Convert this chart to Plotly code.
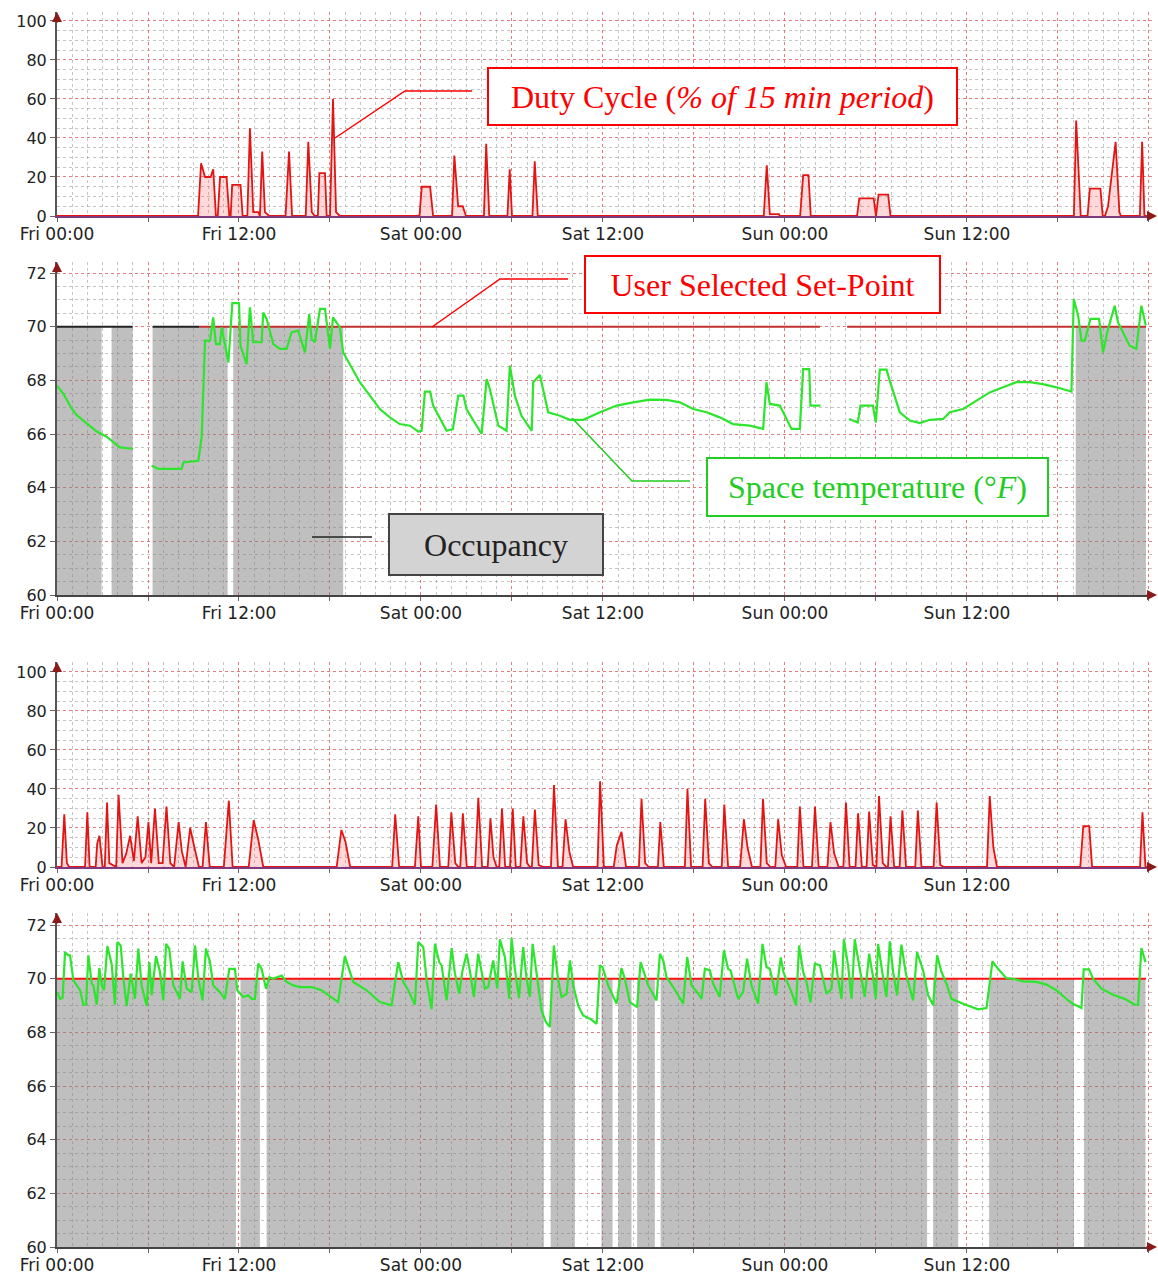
import plotly.graph_objects as go

W, H = 1158, 1275

# ---------------- axis labels ----------------
TICK_HOURS = [0, 6, 12, 18, 24, 30, 36, 42, 48, 54, 60, 66, 72]
TICK_LABELS = ["Fri 00:00", "", "Fri 12:00", "", "Sat 00:00", "", "Sat 12:00", "",
               "Sun 00:00", "", "Sun 12:00", "", ""]
DUTY_TICKS = [0, 20, 40, 60, 80, 100]
TEMP_TICKS = [60, 62, 64, 66, 68, 70, 72]
SETPOINT = 70

# ---------------- panel 1 : duty cycle (hours since Fri 00:00, %) ----------------
DUTY1_T = [0, 9.3, 9.5, 9.76, 10.13, 10.3, 10.48, 10.6, 10.75, 11.18, 11.36, 11.45, 11.55, 12.1, 12.24,
           12.55, 12.72, 12.94, 13.27, 13.38, 13.53, 13.71, 14.0, 15.07, 15.3, 15.5, 16.4, 16.57, 16.8,
           17.0, 17.2, 17.3, 17.67, 17.78, 18.0, 18.2, 18.4, 18.65,
           23.9, 24.05, 24.6, 24.8,
           26.05, 26.2, 26.45, 26.75, 26.97,
           28.15, 28.3, 28.5,
           29.7, 29.85, 30.0,
           31.35, 31.5, 31.7,
           46.6, 46.8, 47.0, 47.6, 47.65,
           49.0, 49.2, 49.55, 49.7,
           52.75, 52.9, 53.85, 54.0, 54.17, 54.8, 54.96,
           67.05, 67.2, 67.5,
           67.95, 68.1, 68.8, 68.95,
           69.1, 69.3, 69.8, 70.05, 70.15,
           71.4, 71.55, 71.7, 71.85]
DUTY1_V = [0, 0, 27, 20, 20, 24, 0, 0, 20, 20, 0, 0, 16, 16, 0,
           0, 45, 2, 2, 0, 33, 2, 0, 0, 33, 0, 0, 38, 2,
           0, 0, 22, 22, 0, 0, 60, 2, 0,
           0, 15, 15, 0,
           0, 31, 5, 5, 0,
           0, 37, 0,
           0, 24, 0,
           0, 28, 0,
           0, 26, 1, 1, 0,
           0, 21, 21, 0,
           0, 9, 9, 0, 11, 11, 0,
           0, 49, 0,
           0, 14, 14, 0,
           0, 5, 38, 2, 0,
           0, 38, 0, 0]

# ---------------- panel 2 : temperature / occupancy (period 1) ----------------
TEMP1_T = [0, 0.42, 0.97, 1.3, 1.96, 2.6, 3.27, 3.71, 4.15, 4.99, None,
           6.24, 6.68, 8.22, 8.33, 9.32, 9.54, 9.76, 10.09, 10.3, 10.48, 10.74, 10.86, 11.3, 11.56, 12.0,
           12.1, 12.5, 12.72, 12.94, 13.49, 13.6, 13.82, 14.26, 14.7, 15.14, 15.47, 15.9, 16.35, 16.63,
           16.79, 17.0, 17.34, 17.67, 18.0, 18.2, 18.65, 18.87, 19.3, 19.97, 20.63, 21.29, 21.95, 22.6,
           23.27, 23.82, 24.04, 24.26, 24.6, 24.8, 25.69, 26.1, 26.46, 26.8, 27.0, 28.0, 28.33, 28.54,
           29.1, 29.64, 29.86, 30.19, 30.63, 31.3, 31.4, 31.84, 32.39, 33.16, 33.82, 34.7, 35.8, 36.9,
           38.0, 39.09, 40.19, 41.07, 41.95, 42.83, 43.7, 44.58, 45.68, 46.56, 46.78, 47.0, 47.66, 47.88,
           48.43, 48.98, 49.2, 49.6, 49.68, 50.34, None,
           52.23, 52.8, 52.98, 53.8, 53.99, 54.25, 54.7, 54.9, 55.57, 56.23, 56.89, 57.55, 58.43, 58.87,
           59.75, 60.63, 61.5, 62.38, 63.26, 64.14, 65.0, 65.9, 66.89, 67.04, 67.33, 67.55, 67.77, 68.14,
           68.71, 68.97, 69.3, 69.74, 69.96, 70.73, 71.17, 71.5, 71.79]
TEMP1_V = [67.8, 67.5, 66.95, 66.7, 66.4, 66.1, 65.9, 65.7, 65.5, 65.45, None,
           64.82, 64.7, 64.7, 64.94, 65.0, 65.9, 69.48, 69.48, 70.35, 69.35, 69.35, 69.97, 68.67, 70.88, 70.88,
           69.29, 68.6, 70.72, 69.42, 69.42, 70.53, 70.29, 69.35, 69.17, 69.17, 69.79, 69.85, 69.04, 70.47,
           69.54, 69.42, 70.66, 70.66, 69.17, 70.35, 69.97, 69.04, 68.6, 67.93, 67.43, 66.93, 66.62, 66.37,
           66.31, 66.09, 66.12, 67.58, 67.58, 67.06, 66.12, 66.18, 67.43, 67.43, 66.93, 66.0, 68.05, 67.68,
           66.31, 66.12, 68.55, 67.43, 66.68, 66.12, 67.93, 68.2, 66.81, 66.68, 66.53, 66.53, 66.81, 67.06,
           67.18, 67.28, 67.27, 67.18, 66.93, 66.81, 66.62, 66.37, 66.31, 66.19, 67.93, 67.12, 67.06, 66.81,
           66.19, 66.19, 68.42, 68.42, 67.06, 67.06, None,
           66.56, 66.43, 67.06, 67.06, 66.43, 68.4, 68.4, 68.0, 66.81, 66.5, 66.41, 66.53, 66.56, 66.81,
           66.93, 67.24, 67.55, 67.74, 67.93, 67.93, 67.86, 67.74, 67.58, 71.03, 70.41, 69.48, 69.48, 70.29,
           70.29, 69.04, 69.91, 70.78, 70.16, 69.29, 69.17, 70.78, 70.04]
OCC1_START = [0, 3.6, 6.3, 11.62, 67.17]
OCC1_END = [2.94, 4.99, 11.25, 18.87, 71.8]
SP1_BLACK_T = [0, 4.99, None, 6.3, 9.4]
SP1_RED_T = [9.4, 50.3, None, 52.1, 71.8]

# ---------------- panel 3 : duty cycle (period 2) ----------------
DUTY2_T = [0, 0.3, 0.48, 0.65, 0.8, 1.85, 2.0, 2.15, 2.55, 2.65, 2.8, 3.0, 3.15, 3.3, 3.45, 3.9, 4.06,
           4.32, 4.57, 4.82, 5.07, 5.32, 5.58, 5.83, 6.03, 6.21, 6.46, 6.71, 6.96, 7.22, 7.47, 7.72, 8.02,
           8.23, 8.48, 8.78, 9.06, 9.36, 9.6, 9.82, 10.07, 11.0, 11.33, 11.58, 12.64, 12.97, 13.27, 13.6,
           18.44, 18.75, 19.02, 19.33, 22.1, 22.3, 22.56, 23.6, 23.82, 24.0, 24.75, 25.0, 25.25,
           25.8, 26.0, 26.26, 26.46, 26.59, 26.76, 27.02, 27.57, 27.78, 28.03, 28.4, 28.58, 28.78, 28.99,
           29.16, 29.34, 29.55, 29.87, 30.05, 30.25, 30.55, 30.75, 31.0, 31.18, 31.31, 31.51, 31.76, 32.06,
           32.57, 32.77, 33.03, 33.33, 33.53, 33.78, 34.03, 35.64, 35.81, 36.06, 36.71, 36.91, 37.22, 37.52,
           38.37, 38.54, 38.78, 39.02, 39.62, 39.78, 40.01, 41.4, 41.57, 41.81, 42.57, 42.74, 42.98, 43.22,
           43.83, 44.0, 44.25, 45.04, 45.29, 45.53, 45.82, 46.38, 46.55, 46.8, 47.04, 47.36, 47.55, 47.79,
           48.08, 48.81, 48.98, 49.22, 49.78, 49.98, 50.22, 50.8, 51.0, 51.24, 51.54, 51.85, 52.02, 52.26,
           52.65, 52.82, 53.07, 53.38, 53.55, 53.79, 54.03, 54.2, 54.45, 54.69, 54.79, 54.96, 55.2,
           55.56, 55.74, 55.98, 56.59, 56.76, 57.0, 57.8, 58.0, 58.24, 58.48, 61.32, 61.5, 61.74, 61.98,
           67.47, 67.67, 68.06, 68.25, 71.41, 71.57, 71.77, 71.85]
DUTY2_V = [0, 0, 27, 2, 0, 0, 28, 0, 0, 12, 16, 0, 0, 33, 2, 0, 37,
           2, 7, 16, 3, 26, 2, 5, 23, 2, 30, 2, 2, 31, 2, 0, 23,
           8, 0, 20, 10, 0, 0, 23, 0, 0, 34, 0, 0, 24, 14, 0,
           0, 19, 13, 0, 0, 27, 0, 0, 26, 0, 0, 32, 0,
           0, 28, 2, 0, 0, 27.5, 0, 0, 35.5, 0, 0, 25, 5, 0,
           0, 30, 0, 0, 30, 0, 0, 26, 2, 0, 0, 29.5, 1, 0,
           0, 42, 0, 0, 24.5, 8, 0, 0, 44, 0, 0, 11, 18, 0,
           0, 35, 2, 0, 0, 23, 0, 0, 40, 0, 0, 35, 2, 0,
           0, 32, 0, 0, 24.5, 10, 0, 0, 35, 2, 0, 0, 24.5, 6,
           0, 0, 31, 0, 0, 31, 0, 0, 23, 7, 0, 0, 33, 0,
           0, 27.5, 0, 0, 28.4, 1, 0, 36.4, 2, 0, 0, 26, 0,
           0, 29, 0, 0, 29, 0, 0, 33, 1, 0, 0, 36.4, 10, 0,
           0, 21, 21, 0, 0, 28, 0, 0]

# ---------------- panel 4 : temperature / occupancy (period 2) ----------------
TEMP2_T = [0.0, 0.2, 0.37, 0.53, 0.75, 0.86, 1.08, 1.3, 1.52, 1.74, 1.91, 2.07, 2.29, 2.4, 2.62, 2.79,
           2.95, 3.1, 3.32, 3.6, 3.82, 3.98, 4.2, 4.37, 4.59, 4.86, 5.14, 5.36, 5.58, 5.91, 6.09, 6.24,
           6.53, 6.79, 7.01, 7.19, 7.4, 7.67, 8.11, 8.28, 8.55, 8.88, 9.1, 9.32, 9.6, 9.82, 10.09, 10.3,
           10.74, 11.07, 11.36, 11.73, 11.89, 12.28, 12.61, 12.83, 13.05, 13.27, 13.49, 13.78, 14.0,
           14.26, 14.81, 15.14, 15.58, 16.02, 16.79, 17.45, 18.54, 18.98, 19.27, 19.53, 20.41, 21.29,
           22.06, 22.5, 22.83, 23.16, 23.6,
           23.82, 24.15, 24.37, 24.7, 24.92, 25.2, 25.36, 25.69, 26.02, 26.24, 26.52, 26.74, 27.01, 27.22,
           27.49, 27.77, 28.0, 28.21, 28.43, 28.76, 29.03, 29.2, 29.53, 29.82, 29.97, 30.19, 30.46, 30.74,
           30.96, 31.18, 31.36, 31.62, 31.95, 32.23, 32.5, 32.76, 33.05, 33.27, 33.6, 33.82, 34.04, 34.36,
           34.69, 35.14, 35.58, 35.8, 35.97, 36.34, 36.9, 37.22, 37.44, 37.77, 38.25, 38.48, 38.76, 38.98,
           39.53, 39.75, 39.97, 40.19, 40.63, 41.29, 41.55, 41.84, 42.28, 42.5, 42.72, 43.05, 43.26, 43.7,
           43.97, 44.25, 44.41, 44.91, 45.24, 45.5, 45.79, 46.23, 46.52, 46.78, 47.0, 47.4, 47.72, 47.9,
           48.1, 48.43, 48.73,
           48.93, 49.2, 49.42, 49.68, 49.97, 50.3, 50.52, 50.74, 51.07, 51.24, 51.5, 51.73, 51.88, 52.16,
           52.39, 52.6, 52.93, 53.26, 53.55, 53.81, 53.99, 54.14, 54.43, 54.69, 54.91, 55.13, 55.39, 55.68,
           55.97, 56.34, 56.45, 56.71, 57.11, 57.44, 57.77, 58.03, 58.32, 58.65, 58.98, 59.74, 60.73,
           61.29, 61.68, 62.05, 62.6, 63.04, 63.7, 64.58, 65.24, 65.9, 66.67, 66.99, 67.55, 67.7, 68.05,
           68.31, 68.87, 69.63, 70.4, 71.06, 71.28, 71.5, 71.77]
TEMP2_V = [69.5, 69.25, 69.28, 70.99, 70.87, 70.87, 69.94, 69.75, 69.57, 69.03, 69.03, 70.87, 69.81,
           69.75, 69.03, 70.4, 69.75, 69.57, 71.22, 70.56, 69.03, 71.37, 71.24, 70.06, 68.98, 70.19,
           69.25, 71.12, 69.75, 68.98, 70.62, 69.38, 70.84, 70.25, 69.19, 71.3, 71.12, 69.75, 69.25,
           70.65, 69.63, 69.5, 71.24, 70.0, 69.19, 71.12, 70.62, 69.75, 69.5, 69.25, 70.37, 70.37,
           69.57, 69.32, 69.38, 69.25, 69.25, 70.56, 70.37, 69.63, 70.06, 70.0, 70.12, 69.88, 69.75,
           69.69, 69.69, 69.57, 69.13, 70.84, 70.37, 69.88, 69.57, 69.13, 69.01, 70.62, 69.88, 69.57,
           69.03,
           71.37, 71.18, 69.94, 68.86, 71.3, 70.62, 70.5, 69.19, 71.14, 70.19, 69.44, 70.31, 70.93, 70.31,
           69.32, 70.93, 70.31, 69.63, 69.69, 70.68, 69.63, 71.47, 70.81, 69.25, 71.52, 70.37, 69.28, 71.18,
           70.0, 69.32, 71.3, 70.25, 68.82, 68.39, 68.2, 71.24, 69.94, 69.32, 69.44, 70.68, 69.75, 69.01,
           68.63, 68.51, 68.32, 70.5, 70.43, 69.75, 69.07, 70.4, 70.0, 69.13, 68.94, 70.62, 70.12, 69.75,
           69.19, 70.93, 70.68, 70.06, 69.69, 69.07, 70.81, 69.75, 69.44, 69.25, 70.37, 70.31, 69.81, 69.32,
           71.06, 70.37, 70.31, 69.25, 69.5, 70.75, 69.75, 69.07, 71.3, 70.43, 70.37, 69.38, 70.79, 70.25,
           69.94, 69.5, 69.01,
           71.24, 70.25, 69.88, 69.11, 70.56, 70.5, 69.94, 69.44, 69.63, 71.06, 70.0, 69.25, 71.47, 70.5,
           69.25, 71.47, 70.37, 69.32, 70.93, 70.06, 69.25, 71.3, 70.19, 69.32, 71.39, 70.25, 69.38, 71.27,
           70.19, 69.44, 69.19, 70.99, 70.31, 69.38, 69.01, 70.87, 70.25, 69.81, 69.25, 69.07, 68.86,
           68.91, 70.65, 70.37, 70.02, 70.0, 69.9, 69.88, 69.78, 69.57, 69.19, 69.07, 68.91, 70.35, 70.35,
           70.0, 69.63, 69.4, 69.25, 69.03, 69.03, 71.14, 70.62]
OCC2_START = [0, 12.1, 13.82, 32.55, 35.9, 37.0, 38.25, 39.8, 57.77, 61.46, 67.72]
OCC2_END = [11.8, 13.38, 32.1, 34.15, 36.63, 37.88, 39.42, 57.37, 59.42, 67.06, 71.77]
SP2_T = [0, 71.8]

# ---------------- styling ----------------
X_TICK_FONT = dict(family="DejaVu Sans", size=17, color="#222222")
Y_TICK_FONT = dict(family="DejaVu Sans", size=16, color="#222222")
GRID_MAJOR = "rgba(235,100,100,0.75)"
GRID_MINOR = "rgba(140,140,140,0.5)"
GRAY_FILL = "rgba(128,128,128,0.5)"
GREEN = "#2ee52e"
RED_DUTY = "#e31414"
X_DOMAIN = [57 / W, 1152 / W]


def ydom(top_px, bottom_px):
    return [1 - bottom_px / H, 1 - top_px / H]


def xaxis(anchor, linecolor):
    return dict(domain=X_DOMAIN, anchor=anchor, range=[0, 72.2], tickmode="array",
                tickvals=TICK_HOURS, ticktext=TICK_LABELS, showgrid=True, gridcolor=GRID_MAJOR,
                griddash="dot", gridwidth=1,
                minor=dict(tickmode="linear", tick0=0, dtick=1, showgrid=True, gridcolor=GRID_MINOR,
                           griddash="dot", gridwidth=1),
                showline=True, linecolor=linecolor, linewidth=2, ticks="outside", ticklen=4,
                tickcolor="#666666", tickfont=X_TICK_FONT, ticklabelstandoff=-2, zeroline=False,
                layer="above traces", automargin=False, fixedrange=True)


def yaxis(anchor, dom, rng, tickvals, minor_d, tick0):
    return dict(domain=dom, anchor=anchor, range=rng, tickmode="array", tickvals=tickvals,
                showgrid=True, gridcolor=GRID_MAJOR, griddash="dot", gridwidth=1,
                minor=dict(tickmode="linear", tick0=tick0, dtick=minor_d, showgrid=True,
                           gridcolor=GRID_MINOR, griddash="dot", gridwidth=1),
                showline=True, linecolor="#555555", linewidth=2, ticks="outside", ticklen=5,
                tickcolor="#666666", tickfont=Y_TICK_FONT, zeroline=False, layer="above traces",
                automargin=False, fixedrange=True)


fig = go.Figure()

# Panel 1
fig.add_trace(go.Scatter(x=DUTY1_T, y=DUTY1_V, mode="lines", line=dict(color=RED_DUTY, width=1.8),
                         fill="tozeroy", fillcolor="rgba(255,80,80,0.22)", xaxis="x", yaxis="y",
                         hoverinfo="skip", showlegend=False))

# Panel 2
fig.add_trace(go.Bar(x=OCC1_START, y=[SETPOINT - 60] * len(OCC1_START), base=60,
                     width=[e - s for s, e in zip(OCC1_START, OCC1_END)], offset=0,
                     marker=dict(color=GRAY_FILL, line=dict(width=0)), xaxis="x2", yaxis="y2",
                     hoverinfo="skip", showlegend=False))
fig.add_trace(go.Scatter(x=SP1_BLACK_T, y=[SETPOINT if t is not None else None for t in SP1_BLACK_T],
                         mode="lines", line=dict(color="#222222", width=2), xaxis="x2", yaxis="y2",
                         hoverinfo="skip", showlegend=False))
fig.add_trace(go.Scatter(x=SP1_RED_T, y=[SETPOINT if t is not None else None for t in SP1_RED_T],
                         mode="lines", line=dict(color="#c43030", width=2), xaxis="x2", yaxis="y2",
                         hoverinfo="skip", showlegend=False))
fig.add_trace(go.Scatter(x=TEMP1_T, y=TEMP1_V, mode="lines", line=dict(color=GREEN, width=2.2),
                         xaxis="x2", yaxis="y2", hoverinfo="skip", showlegend=False))

# Panel 3
fig.add_trace(go.Scatter(x=DUTY2_T, y=DUTY2_V, mode="lines", line=dict(color=RED_DUTY, width=1.8),
                         fill="tozeroy", fillcolor="rgba(255,80,80,0.22)", xaxis="x3", yaxis="y3",
                         hoverinfo="skip", showlegend=False))

# Panel 4
fig.add_trace(go.Bar(x=OCC2_START, y=[SETPOINT - 60] * len(OCC2_START), base=60,
                     width=[e - s for s, e in zip(OCC2_START, OCC2_END)], offset=0,
                     marker=dict(color=GRAY_FILL, line=dict(width=0)), xaxis="x4", yaxis="y4",
                     hoverinfo="skip", showlegend=False))
fig.add_trace(go.Scatter(x=SP2_T, y=[SETPOINT] * len(SP2_T), mode="lines",
                         line=dict(color="#ff1010", width=2), xaxis="x4", yaxis="y4",
                         hoverinfo="skip", showlegend=False))
fig.add_trace(go.Scatter(x=TEMP2_T, y=TEMP2_V, mode="lines", line=dict(color=GREEN, width=2.2),
                         xaxis="x4", yaxis="y4", hoverinfo="skip", showlegend=False))

layout = dict(
    width=W, height=H, margin=dict(l=0, r=0, t=0, b=0), paper_bgcolor="white",
    plot_bgcolor="white", showlegend=False, barmode="overlay",
    xaxis=xaxis("y", "#803a80"),
    xaxis2=xaxis("y2", "#444444"),
    xaxis3=xaxis("y3", "#803a80"),
    xaxis4=xaxis("y4", "#444444"),
    yaxis=yaxis("x", ydom(12, 216), [0, 104.6], DUTY_TICKS, 5, 0),
    yaxis2=yaxis("x2", ydom(262, 595), [60, 72.41], TEMP_TICKS, 0.5, 60),
    yaxis3=yaxis("x3", ydom(662, 867), [0, 105.1], DUTY_TICKS, 5, 0),
    yaxis4=yaxis("x4", ydom(913, 1247), [60, 72.45], TEMP_TICKS, 0.5, 60),
)
fig.update_layout(**layout)


def px(x):
    return x / W


def py(y):
    return 1 - y / H


annotations = []
# axis arrows
for axis_bottom, axis_top in [(216, 12), (595, 262), (867, 662), (1247, 913)]:
    annotations.append(dict(xref="paper", yref="paper", x=px(1157), y=py(axis_bottom), ax=-12, ay=0,
                            text="", showarrow=True, arrowhead=2, arrowsize=1, arrowwidth=2,
                            arrowcolor="#8b1a1a"))
    annotations.append(dict(xref="paper", yref="paper", x=px(57), y=py(axis_top), ax=0, ay=12,
                            text="", showarrow=True, arrowhead=2, arrowsize=1, arrowwidth=2,
                            arrowcolor="#8b1a1a"))

SERIF = "Liberation Serif"
boxes = [
    ("Duty Cycle (<i>% of 15 min period</i>)", 487, 67, 958, 126, "#ff0000", "white", "#ff0000"),
    ("User Selected Set-Point", 584, 255, 941, 314, "#ff0000", "white", "#ff0000"),
    ("Space temperature (°<i>F</i>)", 706, 457, 1049, 517, "#22cc22", "white", "#22cc22"),
    ("Occupancy", 388, 513, 604, 576, "#222222", "#d3d3d3", "#444444"),
]
for text, x0, y0, x1, y1, fc, bg, bc in boxes:
    annotations.append(dict(xref="paper", yref="paper", x=px((x0 + x1) / 2), y=py((y0 + y1) / 2),
                            xanchor="center", yanchor="middle", text=text, showarrow=False,
                            font=dict(family=SERIF, size=32, color=fc), bgcolor=bg, bordercolor=bc,
                            borderwidth=2, borderpad=0, width=x1 - x0 - 4, height=y1 - y0 - 4))
fig.update_layout(annotations=annotations)


def path(points):
    return "M " + " L ".join(f"{px(a)},{py(b)}" for a, b in points)


shapes = [
    dict(type="path", xref="paper", yref="paper", path=path([(335, 138), (405, 91), (472, 91)]),
         line=dict(color="#ff0000", width=1.5)),
    dict(type="path", xref="paper", yref="paper", path=path([(432, 327), (500, 279), (568, 279)]),
         line=dict(color="#ff0000", width=1.5)),
    dict(type="path", xref="paper", yref="paper", path=path([(572, 418), (632, 481), (690, 481)]),
         line=dict(color="#22cc22", width=1.5)),
    dict(type="path", xref="paper", yref="paper", path=path([(312, 537), (372, 537)]),
         line=dict(color="#222222", width=1.5)),
]
fig.update_layout(shapes=shapes)

fig.write_html("out.html")
